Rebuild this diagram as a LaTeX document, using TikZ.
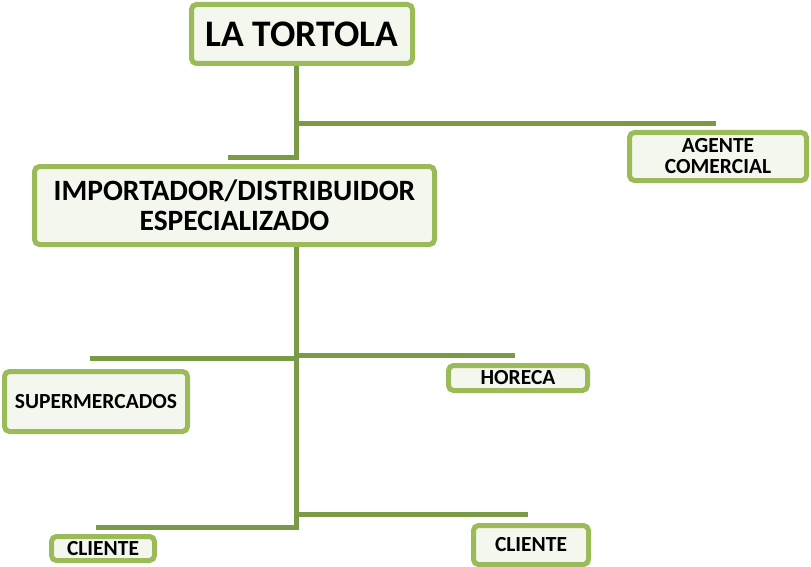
\documentclass[tikz,border=0pt]{standalone}
\usepackage{fontspec}
\setmainfont{Carlito}
\definecolor{boxgreen}{HTML}{9BBB59}
\definecolor{boxfill}{HTML}{F4F7EE}
\definecolor{linegreen}{HTML}{7A9A45}
\begin{document}
\begin{tikzpicture}[x=1pt,y=-1pt,
  box/.style={draw=boxgreen,line width=5pt,rounded corners=5pt,fill=boxfill,
    align=center,inner sep=0pt,font=\bfseries},
  small/.style={font=\bfseries\fontsize{21.5}{21}\selectfont},
  conn/.style={draw=linegreen,line width=5pt}]
\useasboundingbox (0,0) rectangle (811,567);
% nodes
\node[box,minimum width=221pt,minimum height=59pt,font=\bfseries\fontsize{37.5}{40}\selectfont] (top) at (302,34) {LA TORTOLA};
\node[box,minimum width=400pt,minimum height=78pt,font=\bfseries\fontsize{29.5}{30}\selectfont] (imp) at (234.5,205.5) {IMPORTADOR/DISTRIBUIDOR\\ESPECIALIZADO};
\node[box,small,minimum width=177pt,minimum height=48pt] (agent) at (718,156.5) {AGENTE\\COMERCIAL};
\node[box,small,minimum width=183pt,minimum height=60pt] (super) at (96,401.5) {SUPERMERCADOS};
\node[box,small,minimum width=139pt,minimum height=25pt] (horeca) at (518,378) {HORECA};
\node[box,small,minimum width=103pt,minimum height=24pt] (clienteL) at (103,548.5) {CLIENTE};
\node[box,small,minimum width=115pt,minimum height=39pt] (clienteR) at (531,545) {CLIENTE};
% coordinates
\coordinate (j1) at (296,124);
\coordinate (e1) at (716,124);
\coordinate (j2) at (296,157);
\coordinate (e2) at (228,157);
\coordinate (j3) at (296,356);
\coordinate (e3l) at (90,358);
\coordinate (e3r) at (515,355);
\coordinate (j4) at (296,514);
\coordinate (e4r) at (528,514);
\coordinate (j5) at (296,527);
\coordinate (e5l) at (96,527);
% connectors
\draw[conn] (top.south -| j1) -- (j2);
\draw[conn] (j1) -- (e1);
\draw[conn] ([xshift=2.5pt]j2) -- (e2);
\draw[conn] (imp.south -| j3) -- ([yshift=2.5pt]j5);
\draw[conn] ([xshift=2.5pt]j3 |- e3l) -- (e3l);
\draw[conn] ([xshift=-2.5pt]j3 |- e3r) -- (e3r);
\draw[conn] ([xshift=-2.5pt]j4) -- (e4r);
\draw[conn] ([xshift=2.5pt]j5) -- (e5l);
\end{tikzpicture}
\end{document}
